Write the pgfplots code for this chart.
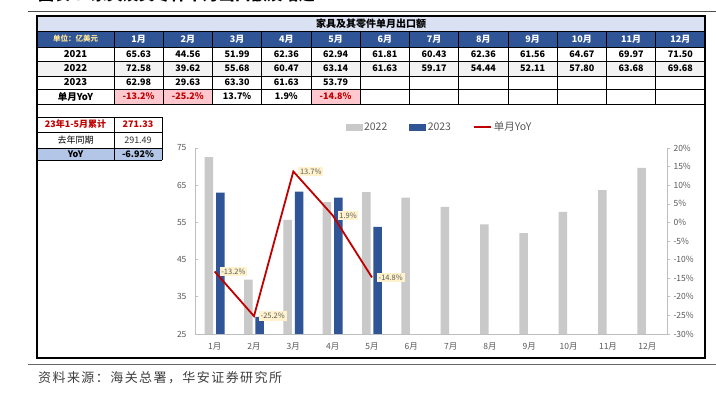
\documentclass[border=0pt]{standalone}
\usepackage{pgfplots}
\pgfplotsset{compat=1.18}
\usepackage{fontspec}
\setmainfont{Noto Sans CJK SC}
\newfontfamily\srcfont{Noto Sans CJK SC}[LetterSpace=11]
\definecolor{hdrlight}{HTML}{D9E1F2}
\definecolor{hdrblue}{HTML}{2F5597}
\definecolor{rowgray}{HTML}{F2F2F2}
\definecolor{pinkbg}{HTML}{FFC7CE}
\definecolor{redtxt}{HTML}{C00000}
\definecolor{yoybg}{HTML}{B4C6E7}
\definecolor{bargray}{HTML}{C9C9C9}
\definecolor{barblue}{HTML}{2F5597}
\definecolor{linered}{HTML}{C00000}
\definecolor{lblbg}{HTML}{FFF2CC}
\definecolor{axgray}{HTML}{BFBFBF}
\definecolor{tickgray}{HTML}{595959}
\definecolor{unitcol}{HTML}{FFE699}
\begin{document}
\begin{tikzpicture}
\useasboundingbox (0,0) rectangle (716pt,-398pt);
\fill[white] (0,0) rectangle (716pt,-398pt);
\clip (0,0) rectangle (716pt,-398pt);
\begin{scope}[x=1pt,y=-1pt]
% title (cut off at the top edge, as in the reference)
\node[anchor=base west, inner sep=0, font=\fontsize{16}{16}\selectfont\bfseries] at (38,0.5) {图表 3\ \ 家具及其零件单月出口额及增速};
\draw[line width=0.9pt, black!70] (28,11) -- (716,11);
% table fills
\fill[hdrlight] (37,16) rectangle (705,31);
\fill[hdrblue] (37,31) rectangle (705,47);
\fill[rowgray] (37,61) rectangle (705,76);
\foreach \c in {1,2,5} {\fill[pinkbg] ({114+(\c-1)*49.25},89) rectangle ({114+\c*49.25},104);}
\fill[yoybg] (37,148) rectangle (162,160);
% grid lines
\foreach \yy in {31,47,61,76,89,104} \draw[line width=0.7pt] (37,\yy) -- (705,\yy);
\foreach \c in {0,...,11} \draw[line width=0.7pt] ({114+\c*49.25},31) -- ({114+\c*49.25},104);
% small table lines
\foreach \yy in {117,132,148,160} \draw[line width=0.7pt] (37,\yy) -- (162,\yy);
\draw[line width=0.7pt] (114,117) -- (114,160);
\draw[line width=0.7pt] (162,117) -- (162,160);
% outer box
\draw[line width=1.3pt] (37,16) rectangle (705,358);
% header texts
\node[font=\fontsize{10}{10}\selectfont\bfseries] at (371,24) {家具及其零件单月出口额};
\node[font=\fontsize{7.5}{8}\selectfont\bfseries, text=unitcol] at (75.5,39) {单位：亿美元};
\foreach \m [count=\i] in {1月,2月,3月,4月,5月,6月,7月,8月,9月,10月,11月,12月}
  \node[font=\fontsize{9}{9}\selectfont\bfseries, text=white] at ({114+(\i-0.5)*49.25},39) {\m};
\node[font=\fontsize{9.5}{10}\selectfont\bfseries] at (75.5,54) {2021};
\node[font=\fontsize{9.5}{10}\selectfont\bfseries] at (75.5,68.5) {2022};
\node[font=\fontsize{9.5}{10}\selectfont\bfseries] at (75.5,82.5) {2023};
\node[font=\fontsize{9.5}{10}\selectfont\bfseries] at (75.5,96.5) {单月YoY};
\foreach \v [count=\i] in {65.63,44.56,51.99,62.36,62.94,61.81,60.43,62.36,61.56,64.67,69.97,71.50}
  \node[font=\fontsize{9}{9}\selectfont\bfseries] at ({114+(\i-0.5)*49.25},54) {\v};
\foreach \v [count=\i] in {72.58,39.62,55.68,60.47,63.14,61.63,59.17,54.44,52.11,57.80,63.68,69.68}
  \node[font=\fontsize{9}{9}\selectfont\bfseries] at ({114+(\i-0.5)*49.25},68.5) {\v};
\foreach \v [count=\i] in {62.98,29.63,63.30,61.63,53.79}
  \node[font=\fontsize{9}{9}\selectfont\bfseries] at ({114+(\i-0.5)*49.25},82.5) {\v};
\foreach \v/\i/\col in {-13.2\%/1/redtxt,-25.2\%/2/redtxt,13.7\%/3/black,1.9\%/4/black,-14.8\%/5/redtxt}
  \node[font=\fontsize{9}{9}\selectfont\bfseries, text=\col] at ({114+(\i-0.5)*49.25},96.5) {\v};
% small table texts
\node[font=\fontsize{9}{9}\selectfont\bfseries, text=redtxt] at (75.5,124.5) {23年1-5月累计};
\node[font=\fontsize{9}{9}\selectfont\bfseries, text=redtxt] at (138,124.5) {271.33};
\node[font=\fontsize{9}{9}\selectfont] at (75.5,140) {去年同期};
\node[font=\fontsize{9}{9}\selectfont, text=black!80] at (138,140) {291.49};
\node[font=\fontsize{9}{9}\selectfont\bfseries] at (75.5,154) {YoY};
\node[font=\fontsize{9}{9}\selectfont\bfseries] at (138,154) {-6.92\%};
% bottom rule and source
\draw[line width=0.8pt, black!60] (28,364) -- (716,364);
\node[anchor=west, inner sep=0, font=\fontsize{13}{13}\srcfont, text=black!75] at (38,378) {资料来源：海关总署，华安证券研究所};
\end{scope}

\begin{axis}[
  at={(195pt,-334pt)}, anchor=south west,
  scale only axis, width=472pt, height=186pt,
  xmin=0.5, xmax=12.5, ymin=25, ymax=75,
  ytick={25,35,45,55,65,75},
  yticklabels={25,35,45,55,65,75},
  xtick={1,...,12},
  xticklabels={1月,2月,3月,4月,5月,6月,7月,8月,9月,10月,11月,12月},
  minor xtick={0.5,1.5,...,12.5},
  axis y line*=left, axis x line*=bottom,
  axis line style={-, draw=axgray, line width=0.8pt},
  xtick style={draw=none},
  minor tick length=3pt,
  minor tick style={draw=axgray, line width=0.6pt},
  ytick style={draw=axgray, line width=0.6pt},
  major tick length=3pt,
  tick label style={font=\fontsize{8.5}{9}\selectfont, text=tickgray},
  yticklabel style={xshift=-5pt},
  xticklabel style={yshift=-5pt},
  clip=true,
]
\addplot[ybar, bar width=8.5pt, bar shift=-5.7pt, fill=bargray, draw=none]
  coordinates {(1,72.58) (2,39.62) (3,55.68) (4,60.47) (5,63.14) (6,61.63) (7,59.17) (8,54.44) (9,52.11) (10,57.80) (11,63.68) (12,69.68)};
\addplot[ybar, bar width=8.5pt, bar shift=5.7pt, fill=barblue, draw=none]
  coordinates {(1,62.98) (2,29.63) (3,63.30) (4,61.63) (5,53.79)};
\end{axis}

\begin{axis}[
  at={(195pt,-334pt)}, anchor=south west,
  scale only axis, width=472pt, height=186pt,
  xmin=0.5, xmax=12.5, ymin=-30, ymax=20,
  ytick={-30,-25,-20,-15,-10,-5,0,5,10,15,20},
  yticklabels={-30\%,-25\%,-20\%,-15\%,-10\%,-5\%,0\%,5\%,10\%,15\%,20\%},
  axis y line*=right, axis x line=none,
  axis line style={-, draw=axgray, line width=0.8pt},
  ytick style={draw=axgray, line width=0.6pt},
  major tick length=3pt, tick align=outside,
  tick label style={font=\fontsize{8.5}{9}\selectfont, text=tickgray},
  yticklabel style={xshift=0pt},
  legend style={at={(0.518,1.113)}, anchor=center, draw=none, fill=none,
    font=\fontsize{10.5}{11}\selectfont, text=tickgray, legend columns=3,
    /tikz/every even column/.append style={column sep=20pt}},
  clip=false,
]
\addlegendimage{legend image code/.code={\fill[bargray] (0pt,-3pt) rectangle (16pt,3pt);}}
\addlegendentry{2022}
\addlegendimage{legend image code/.code={\fill[barblue] (0pt,-3pt) rectangle (16pt,3pt);}}
\addlegendentry{2023}
\addlegendimage{legend image code/.code={\draw[linered, line width=1.8pt] (0pt,0pt) -- (17pt,0pt);}}
\addlegendentry{单月YoY}
\addplot[forget plot, linered, line width=1.8pt, mark=none,
  point meta=explicit symbolic, nodes near coords,
  every node near coord/.append style={anchor=west, xshift=4pt, fill=lblbg,
    font=\fontsize{7.5}{8}\selectfont, text=tickgray, inner sep=1.8pt}]
  coordinates {(1,-13.2) [-13.2\%] (2,-25.2) [-25.2\%] (3,13.7) [13.7\%] (4,1.9) [1.9\%] (5,-14.8) [-14.8\%]};
\end{axis}
\end{tikzpicture}
\end{document}
